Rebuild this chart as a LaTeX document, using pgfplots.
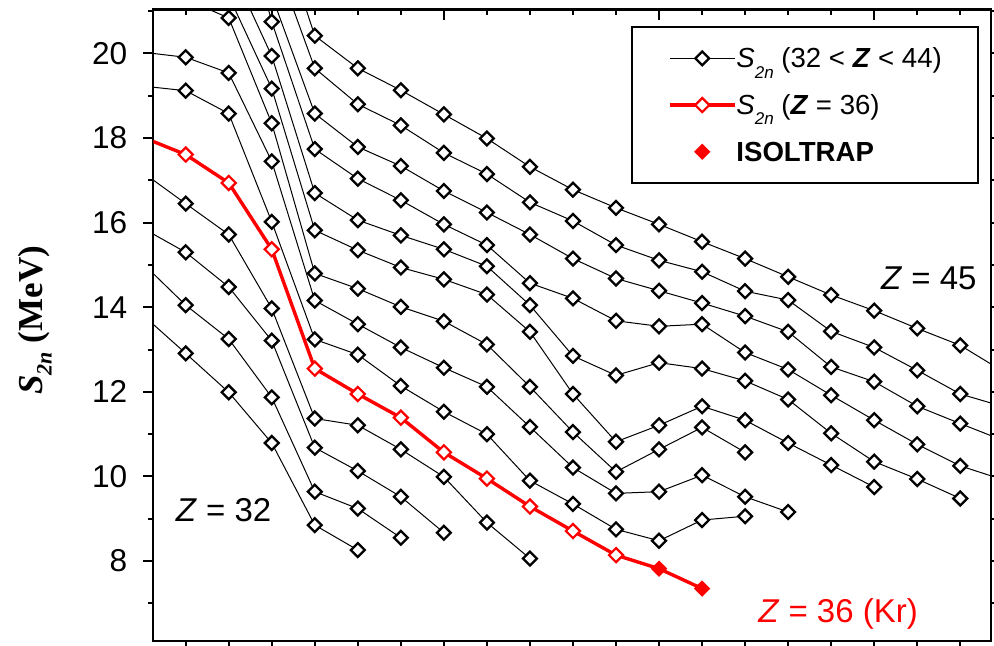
\documentclass[border=0pt]{standalone}
\usepackage{fontspec}
\setmainfont{Liberation Sans}
\newfontfamily\serif{Liberation Serif}
\usepackage{pgfplots}
\pgfplotsset{compat=1.18}
\pgfplotsset{
 blk/.style={black, line width=0.5pt, mark=square*, mark size=2.45pt, mark options={rotate=45, fill=white, draw=black, line width=1.15pt, solid}},
 redk/.style={red, line width=1.7pt, mark=square*, mark size=2.5pt, mark options={rotate=45, fill=white, draw=red, line width=1.1pt, solid}},
 isol/.style={red, line width=1.7pt, mark=square*, mark size=2.6pt, mark options={rotate=45, fill=red, draw=red, line width=0.6pt, solid}},
 myleg/.style={legend image code/.code={\draw[mark repeat=2,mark phase=2,##1] plot coordinates {(0pt,0pt) (16.25pt,0pt) (32.5pt,0pt)};}},
 frame/.style={at={(0pt,0pt)}, anchor=south west, scale only axis, width=418.75pt, height=315.75pt, xmin=48.247, xmax=67.71, ymin=6.11, ymax=21.04, axis line style={line width=1.2pt}, tick style={line width=1pt, black}}
}
\begin{document}
\begin{tikzpicture}
\path[use as bounding box] (-76.65pt,-2.5pt) rectangle (420.35pt,320.5pt);
% top ticks (inside)
\begin{axis}[frame, xtick={50,55,60,65}, minor xtick={49,...,67}, xtick pos=right, xticklabels={}, ytick=\empty, tick align=inside, major tick length=5.35pt, minor tick length=2.6pt]
\end{axis}
% right ticks (outside)
\begin{axis}[frame, xtick=\empty, ytick={7,...,21}, ytick pos=right, yticklabels={}, tick align=outside, major tick length=5pt]
\end{axis}
% main axis
\begin{axis}[frame,
  xtick={49,...,67}, xtick pos=left, xticklabels={},
  ytick={8,10,...,20}, minor ytick={7,9,...,21}, ytick pos=left,
  tick align=outside, major tick length=5pt, minor tick length=2.5pt,
  yticklabel style={font=\fontsize{15.8}{18}\selectfont, xshift=-4.5pt},
  /pgf/number format/assume math mode=true,
  ylabel={\bfseries\itshape S\raisebox{-0.55ex}{\fontsize{11}{11}\selectfont 2n}\upshape\ (MeV)},
  ylabel style={at={(axis description cs:-0.1413,0.508)}, anchor=center, font=\serif\fontsize{17.5}{20}\selectfont},
  legend cell align=left,
  legend style={at={(rel axis cs:0.9857,0.9738)}, anchor=north east, draw=black, line width=1pt, fill=white,
    inner xsep=18pt, inner ysep=8.65pt, row sep=9.35pt, font=\fontsize{13.8}{16}\selectfont,
    nodes={inner sep=0pt, text height=11.8pt, text depth=2.2pt},
    /tikz/every even column/.append style={column sep=5pt}},
]
% Z = 32
\addplot[blk, forget plot] coordinates {(48,13.82)(49,12.91)(50,11.99)(51,10.79)(52,8.85)(53,8.26)};
% Z = 33
\addplot[blk, forget plot] coordinates {(48,15.04)(49,14.05)(50,13.25)(51,11.87)(52,9.64)(53,9.24)(54,8.55)};
% Z = 34
\addplot[blk, forget plot] coordinates {(48,15.87)(49,15.30)(50,14.48)(51,13.21)(52,10.68)(53,10.13)(54,9.52)(55,8.67)};
% Z = 35
\addplot[blk, forget plot] coordinates {(48,17.19)(49,16.45)(50,15.72)(51,13.97)(52,11.37)(53,11.21)(54,10.64)(55,9.99)(56,8.91)(57,8.06)};
% Z = 37
\addplot[blk, forget plot] coordinates {(48,19.23)(49,19.12)(50,18.58)(51,16.02)(52,13.24)(53,12.88)(54,12.14)(55,11.53)(56,11.00)(57,9.90)(58,9.35)(59,8.75)(60,8.48)(61,8.97)(62,9.06)};
% Z = 38
\addplot[blk, forget plot] coordinates {(48,20.03)(49,19.91)(50,19.54)(51,17.45)(52,14.16)(53,13.60)(54,13.05)(55,12.57)(56,12.12)(57,11.17)(58,10.21)(59,9.60)(60,9.64)(61,10.03)(62,9.52)(63,9.16)};
% Z = 39
\addplot[blk, forget plot] coordinates {(49,21.28)(50,20.84)(51,18.35)(52,14.80)(53,14.44)(54,14.01)(55,13.67)(56,13.12)(57,12.12)(58,11.05)(59,10.11)(60,10.64)(61,11.16)(62,10.57)};
% Z = 40
\addplot[blk, forget plot] coordinates {(50,21.36)(51,19.17)(52,15.82)(53,15.35)(54,14.94)(55,14.66)(56,14.30)(57,13.42)(58,11.95)(59,10.82)(60,11.21)(61,11.66)(62,11.33)(63,10.79)(64,10.27)(65,9.75)};
% Z = 41
\addplot[blk, forget plot] coordinates {(50,22.14)(51,19.94)(52,16.70)(53,16.06)(54,15.70)(55,15.37)(56,14.97)(57,14.05)(58,12.85)(59,12.39)(60,12.69)(61,12.55)(62,12.26)(63,11.82)(64,11.02)(65,10.35)(66,9.94)(67,9.48)};
% Z = 42
\addplot[blk, forget plot] coordinates {(50,24.5)(51,20.75)(52,17.74)(53,17.04)(54,16.53)(55,15.96)(56,15.47)(57,14.57)(58,14.21)(59,13.68)(60,13.55)(61,13.60)(62,12.93)(63,12.53)(64,11.92)(65,11.33)(66,10.76)(67,10.25)(68,9.92)};
% Z = 43
\addplot[blk, forget plot] coordinates {(51,21.37)(52,18.58)(53,17.79)(54,17.34)(55,16.75)(56,16.24)(57,15.72)(58,15.15)(59,14.68)(60,14.39)(61,14.10)(62,13.79)(63,13.42)(64,12.59)(65,12.24)(66,11.66)(67,11.25)(68,10.85)};
% Z = 44
\addplot[blk, forget plot] coordinates {(51,22.45)(52,19.65)(53,18.80)(54,18.30)(55,17.65)(56,17.15)(57,16.48)(58,16.04)(59,15.47)(60,15.11)(61,14.84)(62,14.38)(63,14.17)(64,13.43)(65,13.05)(66,12.51)(67,11.95)(68,11.65)};
% Z = 45
\addplot[blk, forget plot] coordinates {(51,23.5)(52,20.42)(53,19.65)(54,19.13)(55,18.56)(56,17.99)(57,17.32)(58,16.78)(59,16.35)(60,15.96)(61,15.55)(62,15.15)(63,14.72)(64,14.29)(65,13.92)(66,13.50)(67,13.10)(68,12.48)};
% ISOLTRAP (Z = 36)
\addplot[isol, forget plot, mark indices={2,3}] coordinates {(59,8.14)(60,7.82)(61,7.35)};
% Z = 36 (Kr)
\addplot[redk, forget plot] coordinates {(48,18.02)(49,17.61)(50,16.94)(51,15.37)(52,12.55)(53,11.95)(54,11.39)(55,10.57)(56,9.95)(57,9.29)(58,8.71)(59,8.14)};
% legend
\addlegendimage{blk, myleg}
\addlegendentry{\textit{S}\raisebox{-0.7ex}{\fontsize{8.5}{8.5}\selectfont\textit{2n}} (32 < \textbf{\textit{Z}} < 44)}
\addlegendimage{redk, myleg}
\addlegendentry{\textit{S}\raisebox{-0.7ex}{\fontsize{8.5}{8.5}\selectfont\textit{2n}} (\textbf{\textit{Z}} = 36)}
\addlegendimage{only marks, isol, myleg}
\addlegendentry{\textbf{ISOLTRAP}}
% labels
\node[font=\fontsize{16.5}{18}\selectfont] at (axis cs:49.88,9.2) {\textit{Z} = 32};
\node[font=\fontsize{16.5}{18}\selectfont] at (axis cs:66.27,14.69) {\textit{Z} = 45};
\node[font=\fontsize{16.5}{18}\selectfont, text=red] at (axis cs:64.16,6.74) {\textit{Z} = 36 (Kr)};
\end{axis}
\end{tikzpicture}
\end{document}
